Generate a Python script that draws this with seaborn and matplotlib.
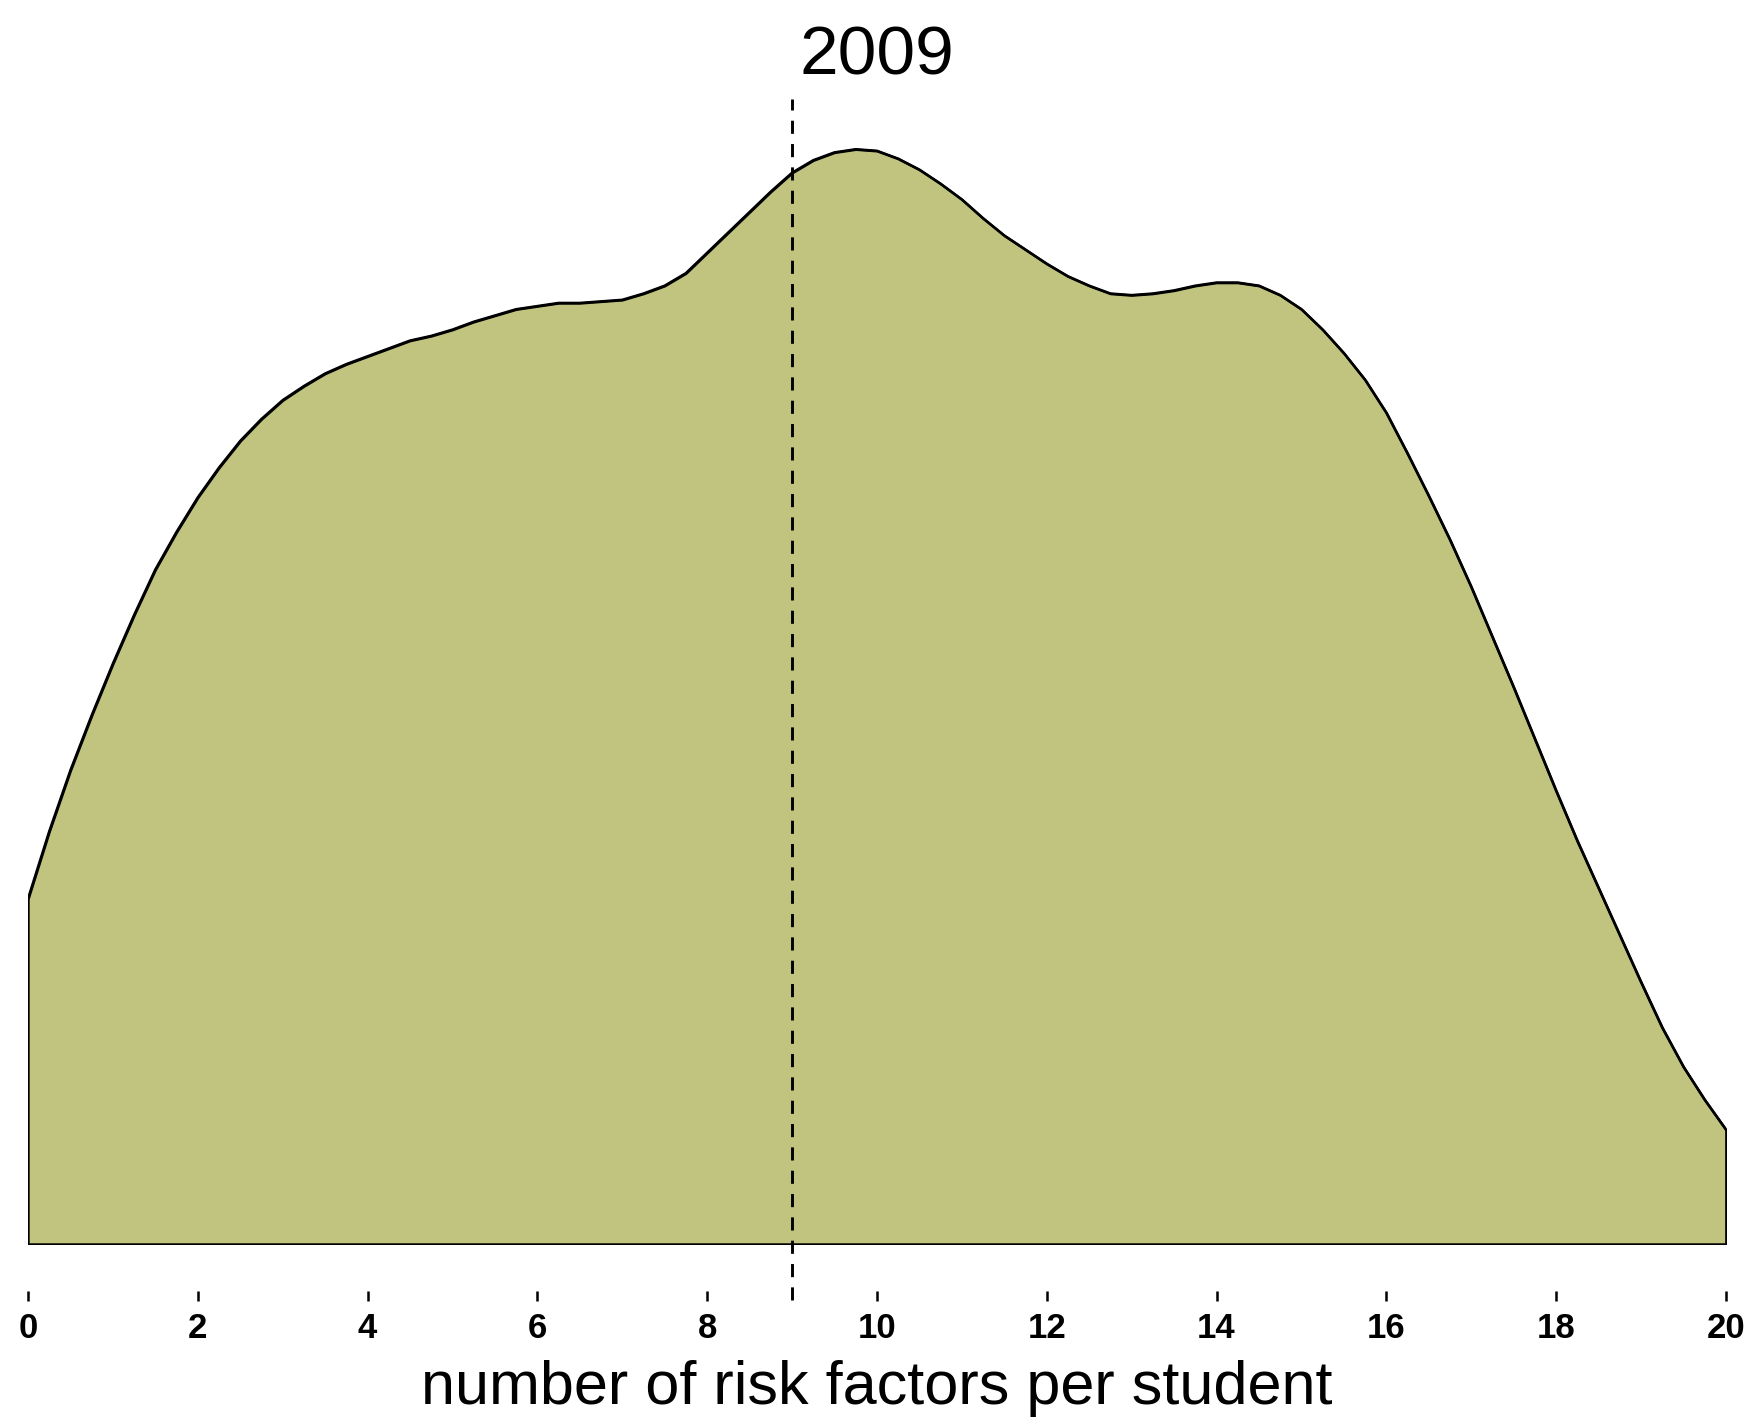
import numpy as np
import pandas as pd
import matplotlib
matplotlib.use("Agg")
import matplotlib.pyplot as plt
from matplotlib import font_manager
import seaborn as sns

# density curve (no y axis shown, units arbitrary)
risk_factors = [0, 0.25, 0.5, 0.75, 1, 1.25, 1.5, 1.75, 2, 2.25, 2.5, 2.75,
                3, 3.25, 3.5, 3.75, 4, 4.25, 4.5, 4.75, 5, 5.25, 5.5, 5.75,
                6, 6.25, 6.5, 6.75, 7, 7.25, 7.5, 7.75, 8, 8.25, 8.5, 8.75,
                9, 9.25, 9.5, 9.75, 10, 10.25, 10.5, 10.75, 11, 11.25, 11.5, 11.75,
                12, 12.25, 12.5, 12.75, 13, 13.25, 13.5, 13.75, 14, 14.25, 14.5, 14.75,
                15, 15.25, 15.5, 15.75, 16, 16.25, 16.5, 16.75, 17, 17.25, 17.5, 17.75,
                18, 18.25, 18.5, 18.75, 19, 19.25, 19.5, 19.75, 20]
density = [0.0220, 0.0263, 0.0302, 0.0337, 0.0370, 0.0401, 0.0430, 0.0454,
           0.0476, 0.0495, 0.0512, 0.0526, 0.0538, 0.0547, 0.0555, 0.0561,
           0.0566, 0.0571, 0.0576, 0.0579, 0.0583, 0.0588, 0.0592, 0.0596,
           0.0598, 0.0600, 0.0600, 0.0601, 0.0602, 0.0606, 0.0611, 0.0619,
           0.0632, 0.0645, 0.0658, 0.0671, 0.0683, 0.0691, 0.0696, 0.0698,
           0.0697, 0.0692, 0.0685, 0.0676, 0.0666, 0.0654, 0.0643, 0.0634,
           0.0625, 0.0617, 0.0611, 0.0606, 0.0605, 0.0606, 0.0608, 0.0611,
           0.0613, 0.0613, 0.0611, 0.0605, 0.0596, 0.0583, 0.0568, 0.0551,
           0.0530, 0.0504, 0.0477, 0.0449, 0.0419, 0.0387, 0.0355, 0.0322,
           0.0289, 0.0257, 0.0227, 0.0197, 0.0167, 0.0138, 0.0113, 0.0092,
           0.0073]
mean_value = 9.0
year_label = "2009"
x_ticks = list(range(0, 21, 2))

df = pd.DataFrame({"risk": risk_factors, "density": density})

sns.set_style("white")
installed = {f.name for f in font_manager.fontManager.ttflist}
narrow = "Liberation Sans Narrow" if "Liberation Sans Narrow" in installed else "Liberation Sans"
plt.rcParams["font.family"] = ["Liberation Sans", "DejaVu Sans"]
plt.rcParams["text.color"] = "black"
plt.rcParams["axes.labelcolor"] = "black"
plt.rcParams["xtick.color"] = "black"

fig = plt.figure(figsize=(17.57, 14.25), dpi=100)
ax = fig.add_axes([0.0159, 0.1270, 0.9664, 0.8035])

ax.fill_between(df["risk"], df["density"], color="#C0C47F",
                edgecolor="black", linewidth=1.8, zorder=1)
sns.lineplot(data=df, x="risk", y="density", color="black", linewidth=1.8,
             ax=ax, zorder=2)

ax.axvline(mean_value, ymin=-0.049, ymax=1.0, color="black", linewidth=2.1,
           linestyle=(0, (4.5, 3.5)), clip_on=False, zorder=3)

ax.set_xlim(0, 20)
ax.set_ylim(0, 0.0730)
for side in ["top", "right", "left"]:
    ax.spines[side].set_visible(False)
ax.spines["bottom"].set_position(("outward", 34))
ax.spines["bottom"].set_visible(False)
ax.tick_params(axis="x", direction="out", length=7, width=1.8, color="black",
               pad=8, bottom=True, labelsize=25, labelcolor="black")

ax.set_xticks(x_ticks)
ax.set_xticklabels([str(t) for t in x_ticks])
for lab in ax.get_xticklabels():
    lab.set_fontfamily([narrow, "DejaVu Sans"])
    lab.set_fontweight("bold")
ax.set_yticks([])
ax.set_ylabel("")
ax.set_xlabel("number of risk factors per student", fontsize=44, labelpad=11)
ax.set_title(year_label, fontsize=50, pad=18)

fig.savefig("out.png", dpi=100)
